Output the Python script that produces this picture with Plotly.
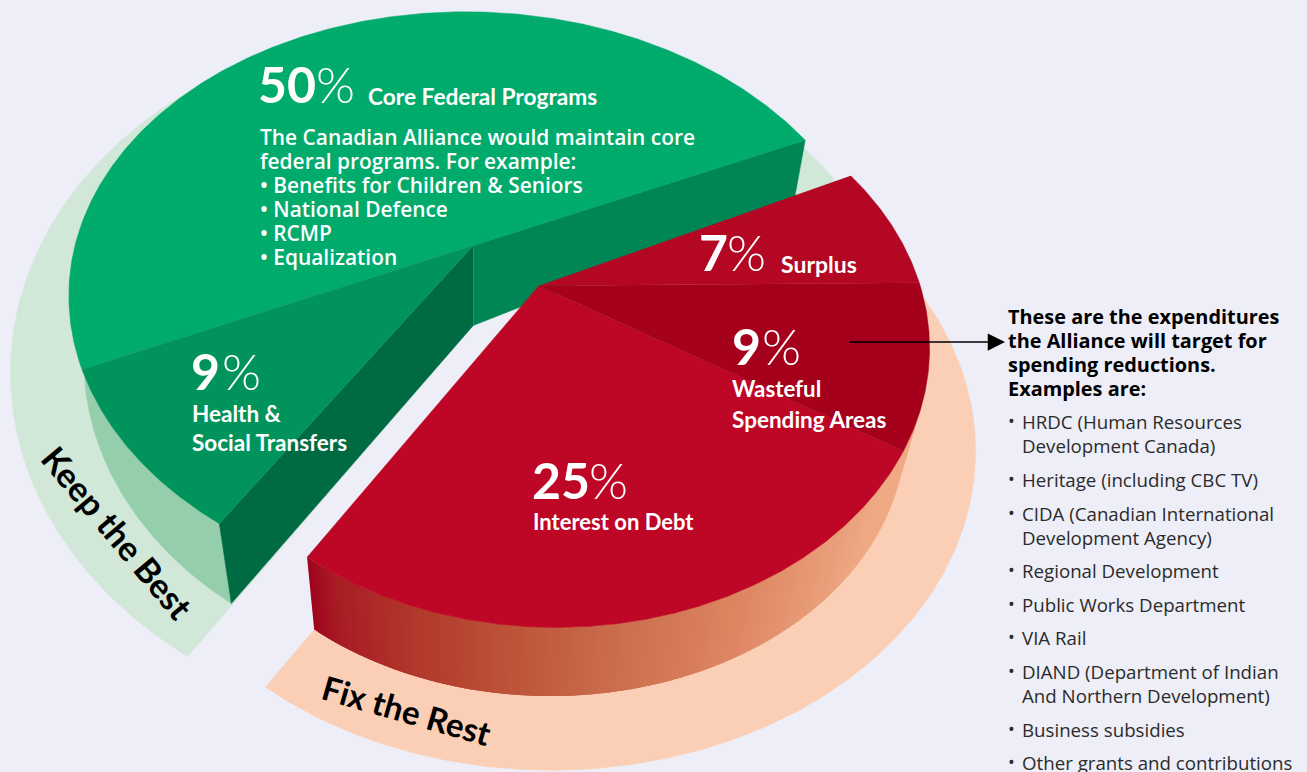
import numpy as np
import plotly.graph_objects as go

# ---- data ----
slice_names = ["Core Federal Programs", "Health & Social Transfers", "Interest on Debt",
               "Wasteful Spending Areas", "Surplus"]
slice_values = [50, 9, 25, 9, 7]
slice_colors = ["#00AB6C", "#00935B", "#BE0626", "#A5001C", "#B30723"]
group_keep = [0, 1]
group_fix = [2, 3, 4]

body_lines = ["The Canadian Alliance would maintain core", "federal programs. For example:",
              "• Benefits for Children & Seniors", "• National Defence", "• RCMP", "• Equalization"]
body_y = [137, 161, 185, 209, 233, 257]
head_lines = ["These are the expenditures", "the Alliance will target for",
              "spending reductions.", "Examples are:"]
head_y = [316, 340, 364, 388]
list_lines = ["HRDC (Human Resources", "Development Canada)", "Heritage (including CBC TV)",
              "CIDA (Canadian International", "Development Agency)", "Regional Development",
              "Public Works Department", "VIA Rail", "DIAND (Department of Indian",
              "And Northern Development)", "Business subsidies", "Other grants and contributions"]
list_y = [421, 445, 479, 513, 537, 570, 604, 637, 671, 695, 729, 762]
list_bullet = [1, 0, 1, 1, 0, 1, 1, 1, 1, 0, 1, 1]

# ---- view: a tilted disc in perspective (8-term projective view of the unit disc) ----
W, H = 1307, 772
BG = "#EDEEF7"
KEEP_VIEW = [397.947586, -86.10192, 473.29101, -93.787551, -211.476832, 245.410691, 0.082048, 0.176225]
FIX_VIEW = [361.47138, -43.428586, 538.79809, -99.795508, -179.476081, 285.851004, 0.058315, 0.21307]
cum = np.cumsum([0] + slice_values) / sum(slice_values)


def project(h, f, r=1.0):
    a = 2 * np.pi * np.asarray(f, float)
    u, v = r * np.cos(a), r * np.sin(a)
    w = h[6] * u + h[7] * v + 1
    return (h[0] * u + h[1] * v + h[2]) / w, (h[3] * u + h[4] * v + h[5]) / w


def keep_depth(x, y):
    k = 0.031 + 0.0000538 * (np.asarray(y) - 140)
    return x + k * (452 - x), y + k * (2072 - y)


def fix_depth(x, y):
    k = 0.05
    return x + k * (450 - x), y + k * (2000 - y)


def arc(h, f0, f1, r=1.0, n=160):
    return project(h, np.linspace(f0, f1, n), r)


fig = go.Figure()


def poly(x, y, color, width=0.5):
    fig.add_trace(go.Scatter(x=list(x), y=list(y), mode="lines", fill="toself", fillcolor=color,
                             line=dict(width=width, color=color), hoverinfo="skip", showlegend=False))


def mix_color(x, stops):
    xs = [s[0] for s in stops]
    c = [np.interp(x, xs, [s[1][i] for s in stops]) for i in range(3)]
    return "rgb(%d,%d,%d)" % tuple(c)


keep_start, keep_end = cum[group_keep[0]], cum[group_keep[-1] + 1]
fix_start, fix_end = cum[group_fix[0]], cum[group_fix[-1] + 1]
cx, cy = (float(v) for v in project(KEEP_VIEW, 0.0, 0.0))
rx, ry = (float(v) for v in project(FIX_VIEW, 0.0, 0.0))
KEEP_HUB_DROP = 80

# bands under each half of the pie
fb = np.linspace(keep_start, keep_end, 240)
bx, by = keep_depth(*project(KEEP_VIEW, fb, 1.15 + 0.05 * np.sin(np.pi * (fb - keep_start) / (keep_end - keep_start))))
poly(np.r_[bx, cx], np.r_[by, cy + KEEP_HUB_DROP], "#D1E7D8")
fb = np.linspace(fix_start, fix_end + 0.015, 240)
bx, by = fix_depth(*project(FIX_VIEW, fb, 1.18 - 0.015 * np.sin(np.pi * np.clip((fb - fix_start) / (fix_end - fix_start), 0, 1))))
hx, hy = fix_depth(rx, ry)
poly(np.r_[bx, hx], np.r_[by, hy], "#FBCFB5")

# green walls
tx, ty = arc(KEEP_VIEW, 0.40, keep_end)
dx, dy = keep_depth(tx, ty)
poly(np.r_[tx, dx[::-1]], np.r_[ty, dy[::-1]], "#94CEAB")
tipx, tipy = project(KEEP_VIEW, keep_start)
tipdx, tipdy = keep_depth(tipx, tipy)
poly([cx, tipx, tipdx, cx], [cy, tipy, tipdy, cy + KEEP_HUB_DROP], "#008655")
endx, endy = project(KEEP_VIEW, keep_end)
enddx, enddy = keep_depth(endx, endy)
poly([cx, endx, enddx, cx], [cy, endy, enddy, cy + KEEP_HUB_DROP], "#006B42")

# green top
for i in group_keep:
    x, y = arc(KEEP_VIEW, cum[i], cum[i + 1], 1.0, int(slice_values[i]) * 8)
    poly(np.r_[cx, x], np.r_[cy, y], slice_colors[i])

# red wall with a left-to-right gradient
wall_stops = [(308, (160, 4, 30)), (335, (168, 28, 36)), (420, (178, 58, 44)), (530, (192, 88, 60)),
              (620, (203, 110, 78)), (740, (222, 133, 98)), (880, (239, 170, 133))]
fs = np.linspace(fix_start, cum[group_fix[0] + 1] + 0.02, 130)
step = fs[1] - fs[0]
for a in fs[:-1]:
    tx, ty = arc(FIX_VIEW, a, a + 2.5 * step, 1.0, 5)
    dx, dy = fix_depth(tx, ty)
    poly(np.r_[tx, dx[::-1]], np.r_[ty, dy[::-1]], mix_color(float(tx[:3].mean()), wall_stops), width=0)

# red top
for i in group_fix:
    x, y = arc(FIX_VIEW, cum[i], cum[i + 1], 1.0, int(slice_values[i]) * 8)
    poly(np.r_[rx, x], np.r_[ry, y], slice_colors[i])

# ---- text ----
LABEL = "Lato"
WIDE = "Open Sans"


def text(x, y, s, size, color="#FFFFFF", family=LABEL, weight=700, angle=0, anchor="left"):
    fig.add_annotation(x=x, y=y, text=s, showarrow=False, xanchor=anchor, yanchor="middle",
                       font=dict(size=size, color=color, family=family, weight=weight),
                       textangle=angle, borderpad=0)


def pct(x_num, x_pct, y, num):
    text(x_num - 2, y - 1, num, 50, weight=700)
    text(x_pct - 1, y - 1, "%", 50, weight=300)


pct(259, 316, 85, "50")
text(367, 96, slice_names[0], 22.7)
pct(192, 222, 372, "9")
text(191, 413, "Health &", 22.5)
text(191, 442, "Social Transfers", 22.5)
pct(533, 589, 481, "25")
text(532, 521, slice_names[2], 22)
pct(733, 762, 347, "9")
text(731, 388, "Wasteful", 22.3)
text(731, 419, "Spending Areas", 22.5)
pct(700, 727, 253, "7")
text(780, 264, slice_names[4], 23)

for s, y in zip(body_lines, body_y):
    text(259, y, s, 20.9, family=WIDE, weight=600)
for s, y in zip(head_lines, head_y):
    text(1007, y, s, 19.9, color="#000000", family=WIDE, weight=700)
for s, y, b in zip(list_lines, list_y, list_bullet):
    if b:
        text(1007, y, "•", 18, color="#2B2B2B", family=WIDE, weight=400)
    text(1021, y, s, 18.7, color="#2B2B2B", family=WIDE, weight=400)

text(118, 532, "Keep the Best", 34, color="#000000", angle=50, anchor="center")
text(407, 710, "Fix the Rest", 33, color="#000000", angle=16, anchor="center")

fig.add_annotation(x=1005, y=342, ax=848, ay=342, axref="x", ayref="y", xref="x", yref="y", text="",
                   showarrow=True, arrowhead=2, arrowsize=2.3, arrowwidth=1.5, arrowcolor="#000000")

fig.update_layout(width=W, height=H, margin=dict(l=0, r=0, t=0, b=0), paper_bgcolor=BG, plot_bgcolor=BG,
                  showlegend=False,
                  xaxis=dict(range=[0, W], visible=False, domain=[0, 1], fixedrange=True),
                  yaxis=dict(range=[H, 0], visible=False, domain=[0, 1], fixedrange=True))
fig.write_html("out.html", config=dict(displayModeBar=False),
               post_script="document.body.style.margin='0';document.body.style.background='%s';" % BG)
